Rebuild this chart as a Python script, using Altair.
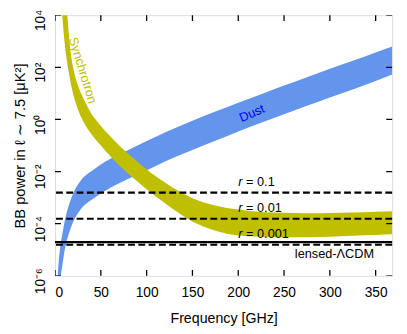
import altair as alt
import pandas as pd

# ---- data (log10 of BB power in uK^2) ----
dust_freq = [3, 4, 5, 6, 8, 10, 12.5, 15, 20, 25, 30, 40, 50, 60, 70, 80, 90, 100,
             120, 150, 175, 200, 225, 250, 275, 300, 325, 350, 368]
dust_hi_log = [-5.95, -5.45, -5.1, -4.8, -4.4, -4.0, -3.6, -3.3, -2.82, -2.5, -2.26, -1.98,
               -1.73, -1.52, -1.34, -1.17, -1.0, -0.83, -0.5, -0.05, 0.3, 0.64, 0.97, 1.3,
               1.62, 1.94, 2.25, 2.57, 2.8]
dust_lo_log = [-7.2, -6.7, -6.35, -6.05, -5.6, -5.12, -4.7, -4.4, -3.92, -3.6, -3.36, -3.08,
               -2.84, -2.63, -2.45, -2.28, -2.11, -1.95, -1.61, -1.17, -0.82, -0.46, -0.13,
               0.2, 0.52, 0.84, 1.15, 1.47, 1.72]

sync_freq = [7, 8, 10, 12.5, 15, 17.5, 20, 25, 30, 35, 40, 45, 50, 60, 70, 80, 90, 100,
             120, 150, 175, 200, 225, 250, 275, 300, 325, 350, 368]
sync_lo_log = [4.45, 3.95, 3.1, 2.35, 1.8, 1.33, 0.95, 0.38, -0.02, -0.33, -0.58, -0.8,
               -1.0, -1.4, -1.76, -2.08, -2.38, -2.68, -3.22, -3.92, -4.27, -4.45, -4.5,
               -4.52, -4.52, -4.5, -4.46, -4.43, -4.41]
sync_hi_log = [7.5, 7.0, 6.0, 4.55, 3.3, 2.45, 1.95, 1.3, 0.88, 0.52, 0.2, -0.03, -0.25,
               -0.64, -1.0, -1.32, -1.62, -1.92, -2.42, -3.02, -3.3, -3.46, -3.55, -3.58,
               -3.6, -3.59, -3.57, -3.54, -3.52]

r_values = [1.55e-3, 1.55e-4, 1.55e-5]
r_texts = ["= 0.1", "= 0.01", "= 0.001"]
r_label_freq = 200
lensed_value = 1.95e-5
lensed_text = "lensed-\u039bCDM"
lensed_label_freq = 305

x_ticks = [0, 50, 100, 150, 200, 250, 300, 350]
y_ticks = [1e-6, 1e-4, 1e-2, 1, 1e2, 1e4]
x_min, x_max = 0, 368
y_min, y_max = 1e-6, 1e4

FONT = "Liberation Sans"
DUST_FILL = "#6495ED"
SYNC_FILL = "#BFBF00"

dust_df = pd.DataFrame({"freq": dust_freq,
                        "hi": [10 ** v for v in dust_hi_log],
                        "lo": [10 ** v for v in dust_lo_log]})
sync_df = pd.DataFrame({"freq": sync_freq,
                        "hi": [10 ** v for v in sync_hi_log],
                        "lo": [10 ** v for v in sync_lo_log]})

xscale = alt.Scale(domain=[x_min, x_max], nice=False, zero=False)
yscale = alt.Scale(type="log", domain=[y_min, y_max], nice=False)

label_expr = ("datum.value > 5e3 ? '10\u2074' : datum.value > 50 ? '10\u00b2' : "
              "datum.value > 0.5 ? '10\u2070' : datum.value > 5e-3 ? '10\u207b\u00b2' : "
              "datum.value > 5e-5 ? '10\u207b\u2074' : '10\u207b\u2076'")

xaxis = alt.Axis(values=x_ticks, ticks=False, tickSize=0, domain=False, grid=False,
                 labelFontSize=14, labelPadding=10, labelFont=FONT,
                 title="Frequency [GHz]", titleFontSize=14.5, titleFont=FONT,
                 titleFontWeight="normal", titlePadding=13, labelColor="black",
                 titleColor="black")
yaxis = alt.Axis(values=y_ticks, ticks=False, tickSize=0, domain=False, grid=False,
                 labelExpr=label_expr, labelAngle=270, labelAlign="center",
                 labelBaseline="alphabetic", labelFontSize=14, labelPadding=11,
                 labelOffset=5, labelFont=FONT,
                 title="BB power in \u2113 \u223c 7.5 [\u03bcK\u00b2]", titleFontSize=15,
                 titleFont=FONT, titleFontWeight="normal", titlePadding=6,
                 labelColor="black", titleColor="black")

dust = alt.Chart(dust_df).mark_area(color=DUST_FILL, opacity=1, interpolate="monotone",
                                    clip=True).encode(
    x=alt.X("freq:Q", scale=xscale, axis=xaxis),
    y=alt.Y("lo:Q", scale=yscale, axis=yaxis),
    y2="hi:Q",
)
sync = alt.Chart(sync_df).mark_area(color=SYNC_FILL, opacity=1, interpolate="monotone",
                                    clip=True).encode(
    x="freq:Q", y="lo:Q", y2="hi:Q")

r_df = pd.DataFrame({"val": r_values, "txt": r_texts, "freq": [r_label_freq] * 3})
r_lines = alt.Chart(r_df).mark_rule(color="black", strokeWidth=2.2,
                                    strokeDash=[7, 3.5]).encode(y="val:Q")
lens_df = pd.DataFrame({"val": [lensed_value], "txt": [lensed_text],
                        "freq": [lensed_label_freq]})
lens_line = alt.Chart(lens_df).mark_rule(color="black", strokeWidth=2.2).encode(y="val:Q")

r_italic = alt.Chart(r_df).mark_text(text="r", fontStyle="italic", font=FONT, fontSize=13,
                                     align="left", baseline="alphabetic", dy=-7,
                                     color="black").encode(x="freq:Q", y="val:Q")
r_rest = alt.Chart(r_df).mark_text(font=FONT, fontSize=13, align="left",
                                   baseline="alphabetic", dx=8, dy=-7,
                                   color="black").encode(x="freq:Q", y="val:Q", text="txt:N")
lens_txt = alt.Chart(lens_df).mark_text(font=FONT, fontSize=13, align="center",
                                        baseline="top", dy=6, color="black").encode(
    x="freq:Q", y="val:Q", text="txt:N")

name_df = pd.DataFrame({"freq": [215, 30], "val": [1.7, 76], "txt": ["Dust", "Synchrotron"]})
dust_txt = alt.Chart(name_df.iloc[[0]]).mark_text(font=FONT, fontSize=13, angle=337,
                                                  color="#0000FF", align="center",
                                                  baseline="middle").encode(
    x="freq:Q", y="val:Q", text="txt:N")
sync_txt = alt.Chart(name_df.iloc[[1]]).mark_text(font=FONT, fontSize=13, angle=73,
                                                  color=SYNC_FILL, align="center",
                                                  baseline="middle").encode(
    x="freq:Q", y="val:Q", text="txt:N")

xt_df = pd.DataFrame({"freq": x_ticks * 2,
                      "val": [y_min] * len(x_ticks) + [y_max] * len(x_ticks)})
yt_df = pd.DataFrame({"val": y_ticks * 2,
                      "freq": [x_min] * len(y_ticks) + [x_max] * len(y_ticks)})
xt = alt.Chart(xt_df).mark_tick(orient="vertical", size=12, thickness=1.3, color="black",
                                clip=True, opacity=1).encode(x="freq:Q", y="val:Q")
yt = alt.Chart(yt_df).mark_tick(orient="horizontal", size=12, thickness=1.3, color="black",
                                clip=True, opacity=1).encode(x="freq:Q", y="val:Q")

chart = alt.layer(dust, sync, r_lines, lens_line, r_italic, r_rest, lens_txt,
                  dust_txt, sync_txt, xt, yt).properties(
    width=344, height=266,
    autosize=alt.AutoSizeParams(type="none"),
    padding={"left": 48, "top": 4, "right": 7, "bottom": 52},
).configure_view(stroke="black", strokeWidth=1.5).configure(background="white")

chart.save("out.html", embed_options={"renderer": "svg", "actions": False})
